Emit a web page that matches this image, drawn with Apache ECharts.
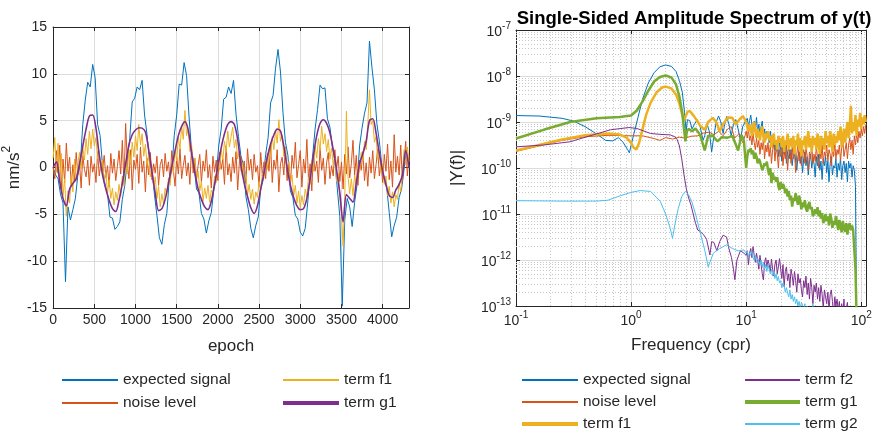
<!DOCTYPE html>
<html><head><meta charset="utf-8">
<script src="https://cdn.jsdelivr.net/npm/echarts@6/dist/echarts.min.js"></script>
<style>html,body{margin:0;padding:0;background:#fff}#c{width:876px;height:438px}</style>
</head><body><div id="c"></div>
<script>
// ---------------- DATA: left panel (time series, epoch = index * step) ----------------
const signalStep = 30;
const expectedSignal = [
0.0,-0.8,-1.2,-2.9,-3.8,-12.2,-4.2,-5.6,-4.5,-3.3,
-0.8,0.4,4.6,7.2,9.1,8.6,11.0,9.6,4.6,3.4,
0.2,-1.9,-2.8,-5.3,-5.4,-6.6,-6.3,-5.8,-3.4,-1.9,
0.8,3.1,7.0,7.4,8.6,8.3,9.3,5.6,3.5,0.6,
-0.2,-2.9,-5.1,-7.5,-8.2,-6.1,-4.9,-1.2,-0.4,3.4,
5.6,8.9,8.8,11.2,9.8,5.4,1.8,0.4,-2.3,-2.7,
-4.9,-5.5,-7.0,-5.7,-4.8,-2.4,-0.9,2.3,4.1,7.3,
7.5,8.6,7.9,9.3,5.7,3.3,1.2,0.3,-3.1,-4.5,
-6.5,-7.5,-6.2,-5.3,-2.2,-1.3,1.4,3.2,6.9,7.7,
10.6,12.6,10.2,5.9,2.7,1.3,-2.5,-3.2,-5.1,-5.5,
-6.9,-7.3,-6.5,-3.8,-0.7,1.2,4.1,6.2,8.8,8.4,
8.5,5.2,4.3,2.2,0.8,-2.3,-5.2,-14.8,-5.6,-3.3,
-4.2,-6.3,-3.7,-1.8,2.3,4.2,5.8,6.9,13.5,10.7,
8.3,4.7,2.8,0.2,-1.3,-2.2,-4.8,-7.4,-6.2,-5.3,
-3.2,-2.3,-0.2,1.8,0.0];

const noiseStep = 20;
const noiseLevel = [
0.0,-1.2,1.8,-0.6,2.4,-2.3,0.9,-1.6,2.6,-0.4,
1.1,-2.0,0.3,-1.4,1.6,-0.8,0.5,-2.2,1.3,-0.2,
-1.0,0.8,-1.9,1.2,-0.5,0.4,-1.6,1.7,-0.9,0.6,
-0.3,1.3,-1.1,0.2,-2.1,1.5,-0.6,0.9,-1.4,0.1,
1.8,-0.7,2.9,-1.8,4.7,0.5,-1.2,1.9,-2.4,0.8,
-0.2,1.4,-1.7,2.2,-0.5,0.7,-2.6,1.0,-0.8,1.6,
-1.3,0.4,-0.6,1.2,-1.9,0.3,0.9,-1.0,1.5,-0.4,
0.6,-1.5,1.8,-0.3,-2.0,1.1,-0.7,2.0,-1.2,0.2,
1.3,-0.9,0.5,-1.8,2.1,-0.6,1.0,-1.3,0.2,1.4,
-1.6,0.7,-0.4,1.9,-1.1,0.3,-2.2,1.2,-0.5,0.8,
-1.4,1.6,-0.2,0.9,-1.8,2.3,-0.8,0.4,-1.5,1.1,
-0.6,1.7,-2.4,0.5,1.2,-1.0,0.7,-1.7,2.0,-0.3,
0.9,-1.3,1.4,-0.5,0.2,-2.0,1.6,-0.9,0.6,-1.2,
1.5,-0.4,2.4,-1.6,0.8,-0.2,1.9,-2.6,0.4,1.1,
-0.8,2.2,-1.4,0.6,-1.9,1.3,-0.1,2.7,-1.1,0.3,
1.8,-2.1,0.9,-0.6,3.0,-1.3,0.4,-2.5,1.5,-0.4,
0.7,-1.6,2.1,-0.3,1.0,-1.8,0.5,1.6,-1.2,0.2,
-0.9,1.9,-0.2,1.2,-1.5,0.6,-2.3,1.4,-0.7,2.2,
-1.1,0.4,2.9,-0.8,1.3,-1.9,0.8,-0.3,1.7,-1.4,
0.5,-2.0,1.1,-0.6,1.8,-1.2,0.3,2.0,-0.9,0.6,
-1.6,1.4,-0.4,2.5,-1.3,0.7,-2.1,3.5,-0.5,1.2,
-0.8,2.4,-1.5,0.6,2.8,-0.9,1.3];

const termF1Step = 20;
const termF1 = [
1.0,3.2,-0.5,2.6,-1.8,1.5,-3.0,-1.2,-5.2,-2.5,-3.8,-0.8,-2.6,0.9,-1.5,0.3,
1.6,-0.2,2.2,0.8,3.1,1.4,3.9,2.0,4.1,2.3,3.2,0.9,1.8,
-0.4,0.8,-1.6,-0.5,-2.7,-1.3,-3.3,-2.2,-4.0,-2.6,-3.5,-1.8,-3.1,-0.9,-2.0,0.6,-0.7,
1.9,0.4,2.7,1.1,3.4,1.8,4.6,2.4,3.6,1.2,2.5,0.3,1.4,-1.0,0.2,
-2.1,-1.0,-3.3,-2.0,-4.2,-2.8,-3.9,-2.2,-3.0,-1.1,-1.9,0.4,
-0.6,1.8,0.7,3.2,2.0,4.4,3.0,6.1,3.4,4.1,1.7,2.5,0.2,1.0,
-1.3,-0.4,-2.5,-1.5,-3.6,-2.2,-3.3,-1.9,-3.7,-2.4,-2.8,-0.9,-1.6,0.5,
-0.3,1.9,0.8,2.8,1.6,3.9,2.2,3.3,4.3,2.1,3.0,0.9,1.7,-0.4,
0.5,-1.6,-0.7,-2.9,-1.8,-3.4,-2.3,-3.9,-2.6,-3.2,-1.5,-2.4,-0.6,-1.1,
0.8,-0.2,2.0,1.1,3.3,1.9,4.0,2.6,5.1,2.8,3.4,1.2,2.1,-0.1,
0.6,-1.7,-0.8,-3.0,-1.9,-3.8,-2.5,-4.3,-3.0,-4.0,-2.3,-3.1,-1.0,-1.8,
0.7,-0.4,2.3,1.0,3.1,1.8,4.4,2.5,3.6,1.7,3.0,0.9,2.1,0.2,1.0,
-1.5,-0.6,-3.1,-5.0,-8.4,
-3.2,6.0,-1.0,-2.8,-1.2,-3.0,-0.8,-1.8,0.3,
-0.5,1.6,0.7,2.8,1.9,4.5,8.3,4.6,5.0,2.7,3.3,
0.9,1.8,-0.6,0.4,-1.8,-0.9,-3.0,-2.0,-3.8,-2.6,-4.2,-2.9,-3.4,-1.7,
-2.6,-0.4,1.9,0.3,2.2,0.6];

const termG1Step = 40;
const termG1 = [
0.0,0.6,-1.5,-3.3,-4.1,-2.3,-1.7,-1.2,0.4,2.3,
4.1,5.5,5.6,4.2,1.3,-0.8,-2.3,-3.5,-4.4,-4.7,
-3.5,-1.7,0.4,2.4,3.5,4.0,4.25,4.2,3.8,1.9,
-0.5,-2.8,-4.6,-4.4,-3.4,-1.7,0.1,
1.8,3.4,4.4,4.9,4.0,1.6,-0.5,-2.3,-3.4,-4.2,
-4.5,-3.6,-1.8,0.2,2.1,3.6,4.6,4.9,4.6,3.0,
0.2,-1.7,-3.1,-4.3,-4.9,-4.1,-2.3,-0.6,1.1,2.5,
3.5,4.1,3.9,2.3,0.0,
-1.9,-3.2,-4.1,-4.5,-4.4,-3.3,-1.2,1.3,3.4,4.7,
5.1,4.7,3.7,1.9,-0.2,-2.7,-5.8,-2.9,-3.3,-3.7,
-1.6,0.4,1.5,2.8,5.0,5.2,3.7,1.5,-0.4,-1.8,
-3.0,-3.2,-2.4,-1.8,-0.8,1.8,0.0];

const epochTicks = [0,500,1000,1500,2000,2500,3000,3500,4000];
const signalTicks = [-15,-10,-5,0,5,10,15];

// ---------------- DATA: right panel (spectrum, stored as log10 values) ----------------
// low part: [log10 f, log10 |Y|]; tail: log10 |Y| on log10 f = tailStart + i*tailStep
const tailStart = 1.0, tailStep = 0.01;
const specExpectedLow = [[-1,-8.86],[-0.8,-8.87],[-0.6,-8.92],[-0.5,-8.98],[-0.4,-9.1],[-0.3,-9.26],[-0.22,-9.4],[-0.16,-9.41],[-0.11,-9.34],[-0.07,-9.44],[-0.03,-9.6],[-0.015,-9.67],[0.02,-9.3],[0.06,-8.9],[0.1,-8.5],[0.15,-8.15],[0.2,-7.93],[0.25,-7.8],[0.3,-7.76],[0.35,-7.79],[0.39,-7.9],[0.42,-8.1],[0.445,-8.35],[0.465,-8.8],[0.478,-9.2],[0.49,-8.95],[0.51,-8.97],[0.53,-9.15],[0.55,-9.05],[0.575,-8.95],[0.6,-9.1],[0.625,-9.4],[0.64,-9.3],[0.66,-9.05],[0.68,-9.2],[0.7,-9.65],[0.72,-9.3],[0.74,-9.0],[0.76,-8.87],[0.78,-9.0],[0.8,-9.25],[0.81,-9.1],[0.83,-8.88],[0.85,-9.05],[0.87,-9.3],[0.89,-9.05],[0.91,-8.95],[0.93,-9.15],[0.95,-9.4],[0.97,-9.1],[0.99,-9.0]];
const specExpectedTail = [
-9.0,-8.92,-9.1,-8.97,-8.85,-9.05,-9.2,-8.98,-9.12,-8.9,
-9.25,-9.05,-9.3,-9.1,-8.98,-9.35,-9.15,-9.4,-9.2,-9.28,
-9.45,-9.2,-9.38,-9.55,-9.3,-9.62,-9.4,-9.5,-9.75,-9.42,
-9.6,-9.85,-9.5,-9.7,-9.45,-9.9,-9.65,-9.55,-9.8,-9.6,
-9.95,-9.7,-9.6,-9.85,-10.05,-9.75,-9.65,-9.9,-9.7,-10.1,
-9.8,-9.65,-9.95,-9.75,-10.15,-9.85,-9.7,-10.0,-9.8,-9.9,
-10.2,-9.75,-9.95,-9.7,-10.05,-9.85,-10.25,-9.8,-9.95,-9.75,
-10.1,-9.85,-10.3,-9.9,-9.75,-10.15,-9.95,-10.0,-9.8,-10.2,
-9.9,-10.05,-9.78,-10.25,-9.95,-9.85,-10.1,-9.9,-10.3,-9.85,
-10.0,-9.9,-10.2,-9.95,-10.05,-10.4,-13.5];

const specNoiseLow = [[-1,-9.64],[-0.8,-9.52],[-0.6,-9.4],[-0.4,-9.32],[-0.2,-9.29],[0.0,-9.3],[0.1,-9.3],[0.2,-9.36],[0.25,-9.4],[0.3,-9.34],[0.36,-9.37],[0.42,-9.33],[0.47,-9.35],[0.52,-9.31],[0.58,-9.3],[0.63,-9.24],[0.68,-9.22],[0.72,-9.28],[0.76,-9.2],[0.8,-9.3],[0.84,-9.15],[0.87,-9.1],[0.9,-9.35],[0.94,-9.25],[0.97,-9.45],[0.99,-9.3]];
const specNoiseTail = [
-9.2,-9.35,-9.15,-9.4,-9.3,-9.5,-9.25,-9.45,-9.6,-9.35,
-9.55,-9.4,-9.7,-9.45,-9.6,-9.35,-9.8,-9.5,-9.65,-9.45,
-9.75,-9.5,-9.9,-9.6,-9.45,-9.85,-9.55,-9.7,-10.0,-9.6,
-9.75,-9.5,-9.95,-9.65,-9.8,-9.5,-10.05,-9.7,-9.6,-9.9,
-9.55,-9.8,-9.65,-10.1,-9.7,-9.5,-9.85,-9.6,-9.95,-9.7,
-9.6,-9.9,-9.55,-9.75,-10.05,-9.65,-9.8,-9.5,-9.9,-9.7,
-9.85,-9.55,-9.75,-10.0,-9.6,-9.8,-9.5,-9.9,-9.65,-9.75,
-9.5,-9.85,-9.6,-9.7,-9.95,-9.55,-9.75,-9.45,-9.8,-9.6,
-9.7,-9.5,-9.85,-9.55,-9.4,-9.75,-9.6,-9.45,-9.8,-9.5,
-9.35,-9.6,-9.4,-9.7,-9.3,-9.5,-9.25,-9.45,-9.2,-9.35,
-9.15,-9.3,-9.1,-9.25,-9.05];

const specF1Low = [[-1,-9.62],[-0.8,-9.5],[-0.6,-9.38],[-0.4,-9.29],[-0.2,-9.25],[-0.1,-9.27],[-0.04,-9.34],[0.0,-9.45],[0.02,-9.55],[0.046,-9.6],[0.07,-9.45],[0.1,-9.15],[0.13,-8.85],[0.17,-8.58],[0.22,-8.36],[0.27,-8.25],[0.3,-8.23],[0.35,-8.27],[0.39,-8.4],[0.42,-8.6],[0.44,-8.8],[0.46,-8.97],[0.475,-9.0],[0.49,-8.78],[0.51,-8.76],[0.54,-8.85],[0.57,-8.96],[0.6,-9.08],[0.64,-9.17],[0.67,-9.0],[0.71,-8.91],[0.74,-9.0],[0.77,-9.2],[0.8,-9.05],[0.84,-8.9],[0.88,-8.91],[0.91,-9.05],[0.94,-8.95],[0.97,-8.87],[0.99,-8.95]];
const specF1Tail = [
-9.0,-9.1,-9.2,-9.05,-9.15,-9.3,-9.1,-9.0,-9.2,-9.35,
-9.15,-9.25,-9.4,-9.2,-9.1,-9.3,-9.45,-9.25,-9.35,-9.2,
-9.4,-9.3,-9.55,-9.35,-9.25,-9.5,-9.4,-9.6,-9.3,-9.45,
-9.35,-9.55,-9.3,-9.65,-9.4,-9.5,-9.25,-9.6,-9.45,-9.35,
-9.55,-9.3,-9.7,-9.4,-9.5,-9.25,-9.6,-9.35,-9.75,-9.4,
-9.5,-9.3,-9.6,-9.4,-9.2,-9.55,-9.35,-9.65,-9.3,-9.5,
-9.35,-9.6,-9.25,-9.45,-9.7,-9.3,-9.5,-9.35,-9.6,-9.2,
-9.45,-9.3,-9.55,-9.2,-9.4,-9.65,-9.25,-9.5,-9.3,-9.45,
-9.2,-9.4,-9.1,-9.55,-9.3,-9.15,-9.45,-9.2,-9.0,-9.35,
-9.1,-8.65,-9.25,-9.0,-9.2,-8.85,-9.3,-8.95,-9.1,-8.8,
-9.15,-8.9,-9.05,-8.85,-9.0];

const specF2Low = [[-1,-9.54],[-0.76,-9.5],[-0.53,-9.43],[-0.33,-9.28],[-0.18,-9.17],[-0.02,-9.12],[0.05,-9.14],[0.17,-9.25],[0.26,-9.27],[0.34,-9.28],[0.38,-9.32],[0.40,-9.38],[0.42,-9.52],[0.44,-9.8],[0.46,-10.15],[0.48,-10.45],[0.50,-10.65],[0.52,-10.8],[0.54,-11.0],[0.56,-11.2],[0.58,-11.35],[0.6,-11.38],[0.63,-11.45],[0.656,-11.55],[0.685,-11.89],[0.7,-11.6],[0.72,-11.62],[0.745,-11.8],[0.77,-11.6],[0.8,-11.46],[0.83,-11.5],[0.85,-11.75],[0.873,-11.95],[0.89,-12.2],[0.902,-12.43],[0.92,-12.0],[0.95,-11.8],[0.98,-11.85]];
const specF2Tail = [
-11.9,-11.8,-12.1,-11.85,-11.75,-11.95,-11.71,-11.9,-12.05,-11.85,
-12.0,-12.2,-11.9,-12.1,-12.3,-12.43,-12.05,-11.95,-12.15,-12.0,
-12.1,-12.25,-11.98,-12.2,-12.35,-12.1,-12.0,-12.3,-12.15,-11.97,
-12.2,-12.4,-12.1,-12.58,-12.25,-12.15,-12.45,-12.3,-12.6,-12.2,
-12.35,-12.55,-12.25,-12.45,-12.7,-12.3,-12.5,-12.4,-12.65,-12.8,
-12.45,-12.6,-12.35,-12.75,-12.5,-12.85,-12.4,-12.6,-12.95,-12.55,
-12.7,-12.5,-12.85,-12.6,-12.9,-12.55,-12.75,-13.05,-12.65,-12.8,
-12.95,-12.7,-13.1,-12.75,-12.65,-12.9,-13.2,-12.8,-13.0,-12.85,
-13.1,-12.9,-13.3,-12.95,-13.2,-12.85,-13.4,-13.05,-12.92,-13.3,
-13.5,-13.1,-13.6,-13.2,-13.8,-13.4,-14.0,-13.6,-14.2,-14.0];

const specG1Low = [[-1,-9.36],[-0.76,-9.17],[-0.53,-9.0],[-0.3,-8.92],[-0.1,-8.89],[0.0,-8.86],[0.05,-8.75],[0.1,-8.55],[0.15,-8.32],[0.2,-8.12],[0.25,-8.02],[0.3,-7.99],[0.35,-8.03],[0.39,-8.18],[0.42,-8.45],[0.445,-8.8],[0.46,-9.15],[0.472,-9.42],[0.485,-9.2],[0.5,-9.15],[0.53,-9.2],[0.56,-9.14],[0.6,-9.28],[0.64,-9.62],[0.67,-9.3],[0.71,-9.3],[0.75,-9.42],[0.79,-9.33],[0.84,-9.34],[0.88,-9.3],[0.93,-9.62],[0.96,-9.28],[0.98,-9.4]];
const specG1Tail = [
-10.0,-9.75,-9.6,-9.65,-9.57,-9.7,-9.62,-9.8,-9.67,-9.75,
-9.9,-9.8,-9.86,-9.95,-10.05,-10.08,-9.9,-9.95,-9.86,-10.04,
-10.15,-10.0,-10.33,-10.1,-10.25,-10.19,-10.3,-10.2,-10.4,-10.48,
-10.3,-10.45,-10.35,-10.41,-10.55,-10.45,-10.62,-10.5,-10.7,-10.6,
-10.84,-10.65,-10.72,-10.55,-10.68,-10.8,-10.6,-10.7,-10.9,-10.75,
-10.85,-10.7,-10.88,-10.95,-10.8,-10.74,-10.9,-10.85,-11.05,-10.99,
-10.9,-11.0,-10.85,-11.05,-10.92,-11.1,-10.98,-11.2,-11.13,-11.0,
-11.15,-11.05,-11.25,-10.99,-11.1,-11.3,-11.15,-11.24,-11.05,-11.2,
-11.35,-11.13,-11.25,-11.4,-11.15,-11.3,-11.39,-11.2,-11.45,-11.25,
-11.2,-11.35,-11.25,-11.35,-11.78,-12.2,-13.3];

const specG2Low = [[-1,-10.71],[-0.6,-10.72],[-0.3,-10.72],[-0.2,-10.7],[-0.09,-10.6],[0.0,-10.53],[0.08,-10.49],[0.17,-10.51],[0.255,-10.73],[0.3,-11.0],[0.34,-11.31],[0.36,-11.53],[0.38,-11.24],[0.41,-10.88],[0.44,-10.62],[0.47,-10.51],[0.5,-10.58],[0.53,-10.75],[0.56,-11.0],[0.6,-11.4],[0.64,-11.78],[0.67,-12.15],[0.715,-11.85],[0.77,-11.75],[0.83,-11.67],[0.88,-11.75],[0.93,-11.8],[0.98,-11.78]];
const specG2Tail = [
-11.85,-11.8,-11.95,-11.85,-11.9,-11.8,-11.95,-12.0,-11.9,-12.05,
-11.96,-12.0,-12.1,-12.0,-12.15,-12.05,-12.2,-12.1,-12.25,-12.1,
-12.14,-12.3,-12.2,-12.35,-12.25,-12.4,-12.3,-12.45,-12.36,-12.5,
-12.45,-12.6,-12.5,-12.55,-12.7,-12.6,-12.72,-12.8,-12.65,-12.85,
-12.75,-12.9,-12.8,-12.95,-12.85,-13.0,-12.9,-13.05,-12.92,-12.98,
-13.1,-12.95,-13.2,-13.0,-13.15,-13.3,-13.05,-13.25,-12.95,-13.4,
-13.2,-13.5,-13.1,-13.6,-13.3,-13.7,-13.4,-13.8,-13.5,-14.0];

const freqTickExp = [-1,0,1,2];
const ampTickExp = [-13,-12,-11,-10,-9,-8,-7];

// ---------------- build ----------------
const C = {blue:'#0072BD', red:'#D95319', yellow:'#EDB120', purple:'#7E2F8E', green:'#77AC30', cyan:'#4DBEEE'};
const FONT = '"Liberation Sans", Arial, Helvetica, sans-serif';
const INK = '#262626';
const GRIDC = '#dcdcdc';

function timeXY(vals, step){ return vals.map((v,i)=>[i*step, v]); }
function specXY(low, tail){
  const pts = low.map(p=>[Math.pow(10,p[0]), Math.pow(10,p[1])]);
  tail.forEach((v,i)=>pts.push([Math.pow(10, tailStart + i*tailStep), Math.pow(10, v)]));
  return pts;
}
function powLabel(v){
  const e = Math.log10(v);
  if (Math.abs(e - Math.round(e)) > 1e-6) return '';
  return '{b|10}{s|' + Math.round(e) + '}';
}
const powRich = {
  b:{fontSize:14, fontFamily:FONT, color:INK, lineHeight:18, verticalAlign:'bottom'},
  s:{fontSize:10, fontFamily:FONT, color:INK, lineHeight:18, verticalAlign:'top'}
};

// minor log grid lines (decoration): 2..9 x 10^k
const xMin = 0.1, xMax = 110, yMin = 1e-13, yMax = 1e-7;
const minorLines = [];
for (let k=-1;k<=1;k++) for (let m=2;m<=9;m++){ const v=m*Math.pow(10,k); minorLines.push({coords:[[v,yMin],[v,yMax]]}); }
for (let k=-13;k<=-8;k++) for (let m=2;m<=9;m++){ const v=m*Math.pow(10,k); minorLines.push({coords:[[xMin,v],[xMax,v]]}); }

const frameLine = {show:true, onZero:false, lineStyle:{color:INK, width:1}};
const tickIn = {show:true, inside:true, length:4, lineStyle:{color:INK}};
const lblStyle = {color:INK, fontSize:14, fontFamily:FONT};
const nameStyle = {fontSize:17, fontFamily:FONT, color:INK};

function lineSeries(name, data, xi, yi, color, width, extra){
  return Object.assign({name, type:'line', xAxisIndex:xi, yAxisIndex:yi, data, symbol:'none', showSymbol:false,
    lineStyle:{color, width}, itemStyle:{color}, clip:true, z:3, animation:false, emphasis:{disabled:true}}, extra||{});
}

function leg(name, color, left, top, h, w){
  return {show:true, selectedMode:false, left, top, padding:0, itemWidth:w||56, itemHeight:h, orient:'horizontal',
    textStyle:{fontSize:15.5, fontFamily:FONT, color:INK, lineHeight:16},
    data:[{name, icon:'rect', itemStyle:{color, borderWidth:0}}]};
}

const option = {
  animation:false,
  backgroundColor:'#fff',
  title:{text:'Single-Sided Amplitude Spectrum of y(t)', left:689, top:4, textAlign:'center',
    textStyle:{fontSize:18.5, fontWeight:'bold', fontFamily:FONT, color:'#000'}},
  grid:[
    {left:53, top:27, width:356, height:281, containLabel:false},
    {left:516, top:30, width:350, height:276, containLabel:false}
  ],
  xAxis:[
    {gridIndex:0, type:'value', min:epochTicks[0], max:4320, interval:500, position:'bottom',
      axisLine:frameLine, axisTick:tickIn, axisLabel:Object.assign({margin:5, showMaxLabel:false, formatter:v=>String(v)}, lblStyle),
      splitLine:{show:true, lineStyle:{color:GRIDC}},
      name:'epoch', nameLocation:'middle', nameGap:30, nameTextStyle:nameStyle},
    {gridIndex:0, type:'value', min:0, max:4320, interval:500, position:'top',
      axisLine:frameLine, axisTick:tickIn, axisLabel:{show:false}, splitLine:{show:false}},
    {gridIndex:1, type:'log', logBase:10, min:Math.pow(10,freqTickExp[0]), max:xMax, position:'bottom',
      axisLine:frameLine, axisTick:tickIn,
      axisLabel:{formatter:powLabel, rich:powRich, margin:4, showMaxLabel:false},
      splitLine:{show:true, lineStyle:{color:GRIDC}},
      name:'Frequency (cpr)', nameLocation:'middle', nameGap:31, nameTextStyle:nameStyle},
    {gridIndex:1, type:'log', logBase:10, min:xMin, max:xMax, position:'top',
      axisLine:frameLine, axisTick:tickIn, axisLabel:{show:false}, splitLine:{show:false}}
  ],
  yAxis:[
    {gridIndex:0, type:'value', min:signalTicks[0], max:signalTicks[signalTicks.length-1], interval:5, position:'left',
      axisLine:frameLine, axisTick:tickIn, axisLabel:Object.assign({margin:6}, lblStyle),
      splitLine:{show:true, lineStyle:{color:GRIDC}},
      name:'{b|nm/s}{s|2}', nameLocation:'middle', nameGap:28, nameRotate:90,
      nameTextStyle:{rich:{b:{fontSize:17, fontFamily:FONT, color:INK, lineHeight:22, verticalAlign:'bottom'},
                           s:{fontSize:12, fontFamily:FONT, color:INK, lineHeight:22, verticalAlign:'top'}}}},
    {gridIndex:0, type:'value', min:-15, max:15, interval:5, position:'right',
      axisLine:frameLine, axisTick:tickIn, axisLabel:{show:false}, splitLine:{show:false}},
    {gridIndex:1, type:'log', logBase:10, min:Math.pow(10,ampTickExp[0]), max:Math.pow(10,ampTickExp[ampTickExp.length-1]), position:'left',
      axisLine:frameLine, axisTick:tickIn,
      axisLabel:{formatter:powLabel, rich:powRich, margin:5},
      splitLine:{show:true, lineStyle:{color:GRIDC}},
      name:'|Y(f)|', nameLocation:'middle', nameGap:50, nameRotate:90, nameTextStyle:nameStyle},
    {gridIndex:1, type:'log', logBase:10, min:yMin, max:yMax, position:'right',
      axisLine:frameLine, axisTick:tickIn, axisLabel:{show:false}, splitLine:{show:false}}
  ],
  legend:[
    leg('expected signal', C.blue, 62, 372, 2),
    leg('noise level', C.red, 62, 395, 2),
    leg('term f1', C.yellow, 283, 372, 2),
    leg('term g1', C.purple, 283, 395, 4),
    leg('expected signal', C.blue, 522, 372, 2, 56),
    leg('noise level', C.red, 522, 394, 2, 56),
    leg('term f1', C.yellow, 522, 416, 4, 56),
    leg('term f2', C.purple, 745, 372, 2, 55),
    leg('term g1', C.green, 745, 394, 4, 55),
    leg('term g2', C.cyan, 745, 416, 2, 55)
  ],
  series:[
    lineSeries('expected signal', timeXY(expectedSignal, signalStep), 0, 0, C.blue, 1),
    lineSeries('noise level', timeXY(noiseLevel, noiseStep), 0, 0, C.red, 1),
    lineSeries('term f1', timeXY(termF1, termF1Step), 0, 0, C.yellow, 1),
    lineSeries('term g1', timeXY(termG1, termG1Step), 0, 0, C.purple, 1.6, {smooth:0.3}),
    {type:'lines', coordinateSystem:'cartesian2d', xAxisIndex:2, yAxisIndex:2, silent:true, z:1, animation:false,
      polyline:false, lineStyle:{type:[1,2], color:'#c8c8c8', width:1, opacity:1}, effect:{show:false},
      data:minorLines},
    lineSeries('expected signal', specXY(specExpectedLow, specExpectedTail), 2, 2, C.blue, 1),
    lineSeries('noise level', specXY(specNoiseLow, specNoiseTail), 2, 2, C.red, 1),
    lineSeries('term f1', specXY(specF1Low, specF1Tail), 2, 2, C.yellow, 2.5),
    lineSeries('term f2', specXY(specF2Low, specF2Tail), 2, 2, C.purple, 1),
    lineSeries('term g1', specXY(specG1Low, specG1Tail), 2, 2, C.green, 2.5),
    lineSeries('term g2', specXY(specG2Low, specG2Tail), 2, 2, C.cyan, 1)
  ]
};
const chart = echarts.init(document.getElementById('c'), null, {renderer:'canvas'});
chart.setOption(option);
</script></body></html>
